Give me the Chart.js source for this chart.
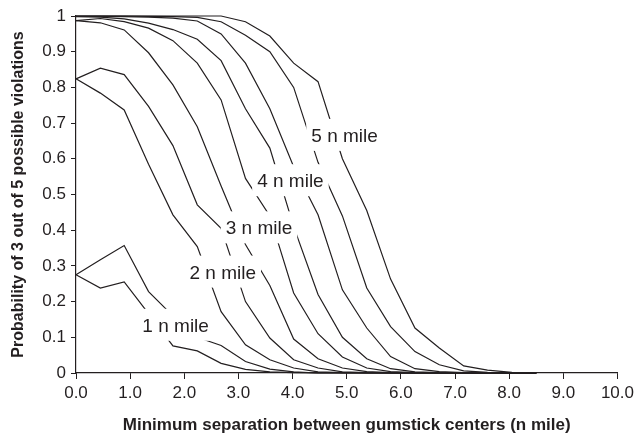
<!DOCTYPE html>
<html>
<head>
<meta charset="utf-8">
<script src="https://cdn.jsdelivr.net/npm/chart.js@4.4.0/dist/chart.umd.min.js"></script>
<style>
  html, body { margin: 0; padding: 0; background: #fff; }
  #wrap { width: 638px; height: 442px; }
</style>
</head>
<body>
<div id="wrap"><canvas id="myChart" width="638" height="442"></canvas></div>
<script>
// minimum separation (n mile) at which each curve was sampled
const sep = [0, 0.45, 0.89, 1.34, 1.79, 2.24, 2.68, 3.13, 3.58, 4.02, 4.47, 4.92, 5.37, 5.81, 6.26, 6.71, 7.16, 7.6, 8.05, 8.5];

// probability curves, two per gumstick width (upper / lower)
const p1hi = [0.275, 0.317, 0.357, 0.228, 0.16, 0.1, 0.077, 0.032, 0.011, 0.003, 0, 0, 0, 0, 0, 0, 0, 0, 0, 0];
const p1lo = [0.275, 0.238, 0.255, 0.166, 0.076, 0.062, 0.027, 0.01, 0.003, 0.001, 0, 0, 0, 0, 0, 0, 0, 0, 0, 0];
const p2hi = [0.824, 0.854, 0.836, 0.747, 0.637, 0.471, 0.405, 0.2, 0.098, 0.037, 0.014, 0.003, 0.001, 0, 0, 0, 0, 0, 0, 0];
const p2lo = [0.824, 0.784, 0.737, 0.585, 0.443, 0.354, 0.172, 0.079, 0.037, 0.014, 0.003, 0.001, 0, 0, 0, 0, 0, 0, 0, 0];
const p3hi = [0.987, 0.993, 0.984, 0.966, 0.931, 0.868, 0.765, 0.545, 0.44, 0.224, 0.11, 0.045, 0.014, 0.004, 0.001, 0, 0, 0, 0, 0];
const p3lo = [0.987, 0.981, 0.961, 0.897, 0.807, 0.69, 0.524, 0.36, 0.245, 0.095, 0.04, 0.014, 0.004, 0.001, 0, 0, 0, 0, 0, 0];
const p4hi = [0.999, 0.999, 0.998, 0.997, 0.994, 0.986, 0.95, 0.868, 0.74, 0.578, 0.443, 0.233, 0.126, 0.046, 0.012, 0.004, 0.001, 0, 0, 0];
const p4lo = [0.998, 0.997, 0.992, 0.98, 0.962, 0.935, 0.875, 0.74, 0.63, 0.41, 0.22, 0.1, 0.04, 0.012, 0.003, 0.001, 0, 0, 0, 0];
const p5hi = [1, 1, 1, 1, 1, 1, 1, 0.984, 0.944, 0.868, 0.816, 0.6, 0.455, 0.263, 0.126, 0.07, 0.02, 0.008, 0.002, 0];
const p5lo = [1, 1, 1, 0.999, 0.998, 0.996, 0.984, 0.946, 0.9, 0.8, 0.59, 0.44, 0.238, 0.13, 0.06, 0.023, 0.006, 0.002, 0, 0];

const curves = [p1hi, p1lo, p2hi, p2lo, p3hi, p3lo, p4hi, p4lo, p5hi, p5lo];

// in-plot labels (data coordinates)
const labelText = ['1 n mile', '2 n mile', '3 n mile', '4 n mile', '5 n mile'];
const labelX = [1.84, 2.71, 3.38, 3.96, 4.96];
const labelY = [0.135, 0.284, 0.408, 0.54, 0.667];

const ink = '#231f20';
const fam = '"Liberation Sans", Arial, Helvetica, sans-serif';

Chart.defaults.font.family = fam;
Chart.defaults.color = ink;

const curveLabels = {
  id: 'curveLabels',
  afterDatasetsDraw(chart) {
    const ctx = chart.ctx;
    const xs = chart.scales.x, ys = chart.scales.y;
    ctx.save();
    ctx.font = '19px ' + fam;
    ctx.textAlign = 'center';
    ctx.textBaseline = 'alphabetic';
    labelText.forEach((t, i) => {
      const px = xs.getPixelForValue(labelX[i]);
      const py = ys.getPixelForValue(labelY[i]);
      const w = ctx.measureText(t).width;
      ctx.fillStyle = '#fff';
      ctx.fillRect(px - w / 2 - 5, py - 16, w + 10, 32);
      ctx.fillStyle = ink;
      ctx.fillText(t, px, py + 7);
    });
    ctx.restore();
  }
};

var ctx = document.getElementById('myChart').getContext('2d');
let myChart = new Chart(ctx, {
  type: 'line',
  data: {
    datasets: curves.map(c => ({
      data: c.map((v, i) => ({ x: sep[i], y: v })),
      borderColor: ink,
      borderWidth: 1.2,
      pointRadius: 0,
      tension: 0,
      fill: false,
      clip: 4
    }))
  },
  options: {
    responsive: false,
    animation: false,
    layout: { padding: { top: 16, right: 17, left: 0, bottom: 0 } },
    plugins: {
      legend: { display: false },
      tooltip: { enabled: false }
    },
    scales: {
      x: {
        type: 'linear',
        min: 0,
        max: 10,
        afterFit: s => { s.height = 69; },
        ticks: {
          stepSize: 1,
          maxRotation: 0,
          padding: 4,
          color: ink,
          font: { size: 17 },
          callback: v => v.toFixed(1)
        },
        grid: { drawOnChartArea: false, tickLength: 6, color: ink, lineWidth: 1 },
        border: { color: ink, width: 1.2 },
        title: {
          display: true,
          text: 'Minimum separation between gumstick centers (n mile)',
          color: ink,
          font: { size: 17, weight: 'bold' },
          padding: { top: 0, bottom: 6 }
        }
      },
      y: {
        type: 'linear',
        min: 0,
        max: 1,
        afterFit: s => { s.width = 76; },
        ticks: {
          stepSize: 0.1,
          padding: 5,
          color: ink,
          font: { size: 17 },
          callback: v => (v === 0 ? '0' : Math.abs(v - 1) < 1e-9 ? '1' : v.toFixed(1))
        },
        grid: { drawOnChartArea: false, tickLength: 5, color: ink, lineWidth: 1 },
        border: { color: ink, width: 1.2 },
        title: {
          display: true,
          text: 'Probability of 3 out of 5 possible violations',
          color: ink,
          font: { size: 16, weight: 'bold' },
          padding: { top: 9, bottom: 0 }
        }
      }
    }
  },
  plugins: [curveLabels]
});
</script>
</body>
</html>
